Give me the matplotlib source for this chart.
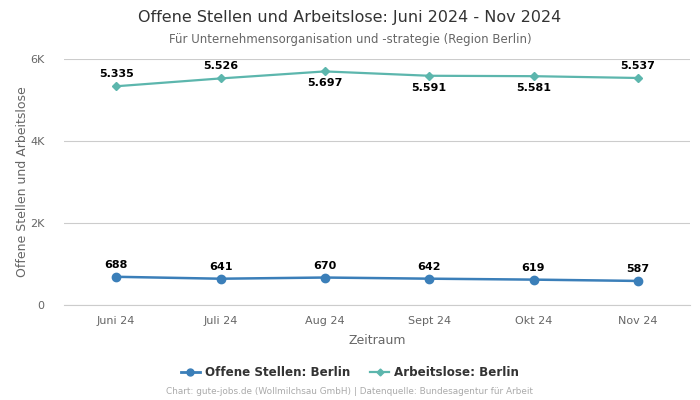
import numpy as np
import matplotlib.pyplot as plt
from matplotlib.ticker import FuncFormatter

months = ['Juni 24', 'Juli 24', 'Aug 24', 'Sept 24', 'Okt 24', 'Nov 24']
offene = [688, 641, 670, 642, 619, 587]
arbeitslose = [5335, 5526, 5697, 5591, 5581, 5537]
arb_labels_below = [False, False, True, True, True, False]

col_offene = '#3b7fb9'
col_arb = '#5cb6ad'

plt.rcParams['font.family'] = ['DejaVu Sans']

fig = plt.figure(figsize=(7, 4), dpi=100)
ax = fig.add_axes([64 / 700, 95 / 400, 626 / 700, 246 / 400])

x = np.arange(len(months))
ax.plot(x, offene, color=col_offene, lw=1.8, marker='o', ms=6, zorder=3)
ax.plot(x, arbeitslose, color=col_arb, lw=1.6, marker='D', ms=4, zorder=3)


def de(v):
    return f'{v:,}'.replace(',', '.')


for xi, v in zip(x, offene):
    ax.annotate(de(v), (xi, v), xytext=(0, 5), textcoords='offset points',
                ha='center', va='bottom', fontsize=8, fontweight='bold', color='#000000')
for xi, v, below in zip(x, arbeitslose, arb_labels_below):
    if below:
        ax.annotate(de(v), (xi, v), xytext=(0, -5), textcoords='offset points',
                    ha='center', va='top', fontsize=8, fontweight='bold', color='#000000')
    else:
        ax.annotate(de(v), (xi, v), xytext=(0, 5), textcoords='offset points',
                    ha='center', va='bottom', fontsize=8, fontweight='bold', color='#000000')

ax.set_xlim(-0.5, len(months) - 0.5)
ax.set_ylim(0, 6000)
ax.set_yticks([0, 2000, 4000, 6000])
ax.yaxis.set_major_formatter(FuncFormatter(lambda v, p: '0' if v == 0 else f'{int(v / 1000)}K'))
ax.set_xticks(x)
ax.set_xticklabels(months)
ax.tick_params(axis='both', length=0, labelsize=8, colors='#666666')
ax.tick_params(axis='x', pad=8)
ax.tick_params(axis='y', pad=14)
ax.grid(axis='y', color='#cccccc', lw=0.8)
ax.set_axisbelow(True)
for s in ['top', 'right', 'left']:
    ax.spines[s].set_visible(False)
ax.spines['bottom'].set_color('#cccccc')

ax.set_xlabel('Zeitraum', fontsize=9, color='#666666', labelpad=6)
ax.set_ylabel('Offene Stellen und Arbeitslose', fontsize=9, color='#666666', labelpad=1)

fig.text(0.5, 0.957, 'Offene Stellen und Arbeitslose: Juni 2024 - Nov 2024',
         ha='center', va='center', fontsize=11.5, color='#333333')
fig.text(0.5, 0.902, 'Für Unternehmensorganisation und -strategie (Region Berlin)',
         ha='center', va='center', fontsize=8.5, color='#666666')

h1, = ax.plot([], [], color=col_offene, lw=2, marker='o', ms=5)
h2, = ax.plot([], [], color=col_arb, lw=1.6, marker='D', ms=3.5)
fig.legend([h1, h2], ['Offene Stellen: Berlin', 'Arbeitslose: Berlin'],
           loc='center', bbox_to_anchor=(0.5, 0.068), ncol=2, frameon=False,
           prop={'size': 8.6, 'weight': 'bold'}, labelcolor='#333333',
           handlelength=1.6, columnspacing=1.7, handletextpad=0.4)

fig.text(0.5, 0.02, 'Chart: gute-jobs.de (Wollmilchsau GmbH) | Datenquelle: Bundesagentur für Arbeit',
         ha='center', va='center', fontsize=6.4, color='#aaaaaa')

fig.savefig('out.png', dpi=100)
